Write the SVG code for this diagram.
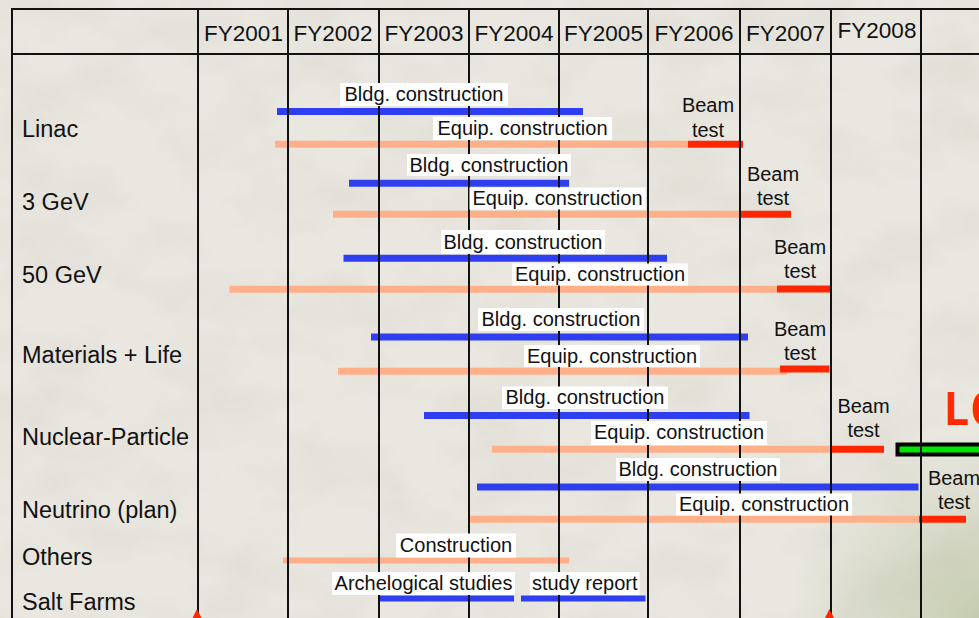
<svg xmlns="http://www.w3.org/2000/svg" width="979" height="618" viewBox="0 0 979 618">
  <style>
    text { font-family: "Liberation Sans", Arial, Helvetica, sans-serif; fill: #111; }
    .hd { font-size: 22.5px; text-anchor: middle; }
    .rl { font-size: 23.5px; }
    .lb { font-size: 20px; text-anchor: middle; }
    .bt { font-size: 20px; text-anchor: middle; }
    .bx { fill: #ffffff; }
    .grid line { stroke: #111; stroke-width: 2; }
    .blue { stroke: #2f3ff0; stroke-width: 7; }
    .peach { stroke: #ffb088; stroke-width: 7; }
    .red { stroke: #ff2600; stroke-width: 7; }
  </style>
  <defs>
    <filter id="paper" x="0" y="0" width="100%" height="100%">
      <feTurbulence type="fractalNoise" baseFrequency="0.011 0.018" numOctaves="4" seed="7"/>
      <feColorMatrix type="matrix" values="0 0 0 0 0.62  0 0 0 0 0.60  0 0 0 0 0.52  0.9 0 0 0 -0.36"/>
    </filter>
    <radialGradient id="tint" cx="979" cy="618" r="190" gradientUnits="userSpaceOnUse">
      <stop offset="0" stop-color="#aab88a" stop-opacity="0.55"/>
      <stop offset="1" stop-color="#aab88a" stop-opacity="0"/>
    </radialGradient>
  </defs>

  <!-- paper background -->
  <rect width="979" height="618" fill="#e9e7e0"/>
  <rect width="979" height="618" filter="url(#paper)" opacity="0.7"/>
  <rect width="979" height="618" fill="url(#tint)"/>

  <!-- schedule bars -->
  <g id="bars" stroke-linecap="butt">
    <!-- Linac -->
    <line class="blue" x1="277" y1="111.5" x2="583" y2="111.5"/>
    <line class="peach" x1="275" y1="144.3" x2="688" y2="144.3"/>
    <line class="red" x1="688" y1="144.3" x2="743" y2="144.3"/>
    <!-- 3 GeV -->
    <line class="blue" x1="349" y1="183.3" x2="569" y2="183.3"/>
    <line class="peach" x1="333" y1="214.3" x2="741" y2="214.3"/>
    <line class="red" x1="740" y1="214.2" x2="791" y2="214.2"/>
    <!-- 50 GeV -->
    <line class="blue" x1="343.5" y1="258.3" x2="667" y2="258.3"/>
    <line class="peach" x1="229.5" y1="289.3" x2="777" y2="289.3"/>
    <line class="red" x1="777" y1="289" x2="832" y2="289"/>
    <!-- Materials + Life -->
    <line class="blue" x1="371" y1="337" x2="748" y2="337"/>
    <line class="peach" x1="338" y1="371.2" x2="787" y2="371.2"/>
    <line class="red" x1="780" y1="369" x2="829.5" y2="369"/>
    <!-- Nuclear-Particle -->
    <line class="blue" x1="424" y1="415.5" x2="749.5" y2="415.5"/>
    <line class="peach" x1="492" y1="449.3" x2="831" y2="449.3"/>
    <line class="red" x1="830" y1="449.3" x2="884" y2="449.3"/>
    <!-- Neutrino (plan) -->
    <line class="blue" x1="477" y1="487" x2="918.5" y2="487"/>
    <line class="peach" x1="469" y1="519.3" x2="921" y2="519.3"/>
    <line class="red" x1="919" y1="519.2" x2="966" y2="519.2"/>
    <!-- Others -->
    <line class="peach" x1="283" y1="560.5" x2="569" y2="560.5" style="stroke-width:6"/>
    <!-- Salt Farms -->
    <line class="blue" x1="378" y1="598.5" x2="514" y2="598.5" style="stroke-width:6"/>
    <line class="blue" x1="521" y1="598.5" x2="645.5" y2="598.5" style="stroke-width:6"/>
  </g>

  <!-- LC marker -->
  <g id="lc">
    <rect x="897.5" y="444.5" width="90" height="10" fill="#00e600" stroke="#000" stroke-width="4"/>
    <text x="943" y="425" style="font-family:'DejaVu Sans Mono','Liberation Mono',monospace;font-size:44px;font-weight:bold;fill:#ff2a00">LC</text>
  </g>

  <!-- table grid -->
  <g id="grid" class="grid">
    <line x1="12" y1="9" x2="979" y2="9"/>
    <line x1="12" y1="54" x2="979" y2="54"/>
    <line x1="12" y1="8" x2="12" y2="618"/>
    <line x1="198" y1="8" x2="198" y2="618"/>
    <line x1="288" y1="8" x2="288" y2="618"/>
    <line x1="379" y1="8" x2="379" y2="618"/>
    <line x1="469" y1="8" x2="469" y2="618"/>
    <line x1="559" y1="8" x2="559" y2="618"/>
    <line x1="648" y1="8" x2="648" y2="618"/>
    <line x1="740" y1="8" x2="740" y2="618"/>
    <line x1="831" y1="8" x2="831" y2="618"/>
    <line x1="921" y1="8" x2="921" y2="618"/>
  </g>

  <!-- milestone markers -->
  <g id="markers" fill="#ff2600">
    <polygon points="197,609 192.5,618 201.5,618"/>
    <polygon points="829.5,609 825,618 834,618"/>
  </g>

  <!-- fiscal year header -->
  <g id="header">
    <text class="hd" x="243.5" y="40.7">FY2001</text>
    <text class="hd" x="333" y="40.7">FY2002</text>
    <text class="hd" x="424" y="40.7">FY2003</text>
    <text class="hd" x="514" y="40.7">FY2004</text>
    <text class="hd" x="603.5" y="40.7">FY2005</text>
    <text class="hd" x="694" y="40.7">FY2006</text>
    <text class="hd" x="785.5" y="40.7">FY2007</text>
    <text class="hd" x="877" y="38.3">FY2008</text>
  </g>

  <!-- row: Linac -->
  <g id="row-linac">
    <text class="rl" x="22" y="137">Linac</text>
    <rect class="bx" x="340" y="83" width="168" height="23"/>
    <text class="lb" x="424" y="101">Bldg. construction</text>
    <rect class="bx" x="433" y="117" width="179" height="23"/>
    <text class="lb" x="522.5" y="135">Equip. construction</text>
    <text class="bt" x="708" y="112">Beam</text>
    <text class="bt" x="708" y="136.5">test</text>
  </g>

  <!-- row: 3 GeV -->
  <g id="row-3gev">
    <text class="rl" x="22" y="210">3 GeV</text>
    <rect class="bx" x="407" y="154" width="164" height="22"/>
    <text class="lb" x="489" y="171.5">Bldg. construction</text>
    <rect class="bx" x="469.5" y="187.5" width="176" height="22"/>
    <text class="lb" x="557.5" y="205">Equip. construction</text>
    <text class="bt" x="773" y="181">Beam</text>
    <text class="bt" x="773" y="204.5">test</text>
  </g>

  <!-- row: 50 GeV -->
  <g id="row-50gev">
    <text class="rl" x="22" y="283">50 GeV</text>
    <rect class="bx" x="441" y="230" width="164" height="24"/>
    <text class="lb" x="523" y="248.5">Bldg. construction</text>
    <rect class="bx" x="512" y="263.5" width="176" height="22"/>
    <text class="lb" x="600" y="281">Equip. construction</text>
    <text class="bt" x="800" y="254">Beam</text>
    <text class="bt" x="800" y="278">test</text>
  </g>

  <!-- row: Materials + Life -->
  <g id="row-materials-life">
    <text class="rl" x="22" y="362.7">Materials + Life</text>
    <rect class="bx" x="478" y="308" width="166" height="23"/>
    <text class="lb" x="561" y="326">Bldg. construction</text>
    <rect class="bx" x="524" y="345" width="176" height="22"/>
    <text class="lb" x="612" y="362.5">Equip. construction</text>
    <text class="bt" x="800" y="336">Beam</text>
    <text class="bt" x="800" y="359.5">test</text>
  </g>

  <!-- row: Nuclear-Particle -->
  <g id="row-nuclear-particle">
    <text class="rl" x="22" y="445">Nuclear-Particle</text>
    <rect class="bx" x="502" y="386.5" width="166" height="22.5"/>
    <text class="lb" x="585" y="404">Bldg. construction</text>
    <rect class="bx" x="591" y="421" width="176" height="24"/>
    <text class="lb" x="679" y="439">Equip. construction</text>
    <text class="bt" x="863.5" y="412.7">Beam</text>
    <text class="bt" x="863.5" y="436.7">test</text>
  </g>

  <!-- row: Neutrino (plan) -->
  <g id="row-neutrino">
    <text class="rl" x="22" y="518.3">Neutrino (plan)</text>
    <rect class="bx" x="616" y="458" width="164" height="23"/>
    <text class="lb" x="698" y="476">Bldg. construction</text>
    <rect class="bx" x="676" y="493.5" width="176" height="22"/>
    <text class="lb" x="764" y="511">Equip. construction</text>
    <text class="bt" x="954" y="485">Beam</text>
    <text class="bt" x="954" y="509.3">test</text>
  </g>

  <!-- row: Others -->
  <g id="row-others">
    <text class="rl" x="22" y="565">Others</text>
    <rect class="bx" x="396" y="533.5" width="120" height="24"/>
    <text class="lb" x="456" y="551.5">Construction</text>
  </g>

  <!-- row: Salt Farms -->
  <g id="row-salt-farms">
    <text class="rl" x="22" y="610">Salt Farms</text>
    <rect class="bx" x="332" y="572" width="183" height="23"/>
    <text class="lb" x="423.5" y="590">Archelogical studies</text>
    <rect class="bx" x="530" y="572" width="109.5" height="23"/>
    <text class="lb" x="584.7" y="590">study report</text>
  </g>
</svg>
